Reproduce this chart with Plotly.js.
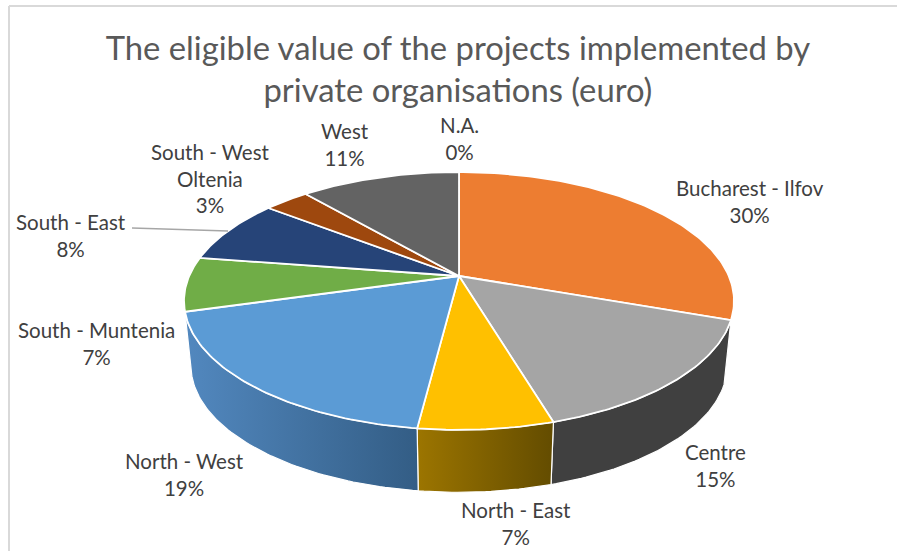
<!DOCTYPE html>
<html>
<head>
<meta charset="utf-8">
<script src="https://cdn.plot.ly/plotly-3.0.1.min.js"></script>
<style>html,body{margin:0;padding:0;background:#fff}#chart{width:897px;height:551px}</style>
</head>
<body>
<div id="chart"></div>
<script>
// Data (share of total, percent)
var categories = ['Bucharest - Ilfov','Centre','North - East','North - West','South - Muntenia','South - East','South - West<br>Oltenia','West','N.A.'];
var shares = [30.4,15.0,6.6,18.6,6.8,8.1,3.2,11.3,0.0];
var topColors = ['#ED7D31','#A5A5A5','#FFC000','#5B9BD5','#70AD47','#264478','#9E480E','#636363','#7F7F7F'];
var titleText = 'The eligible value of the projects implemented by<br>private organisations (euro)';

// Side wall shading per visible slice
var wallGradients = {
  1: ['#404040','#404040'],
  2: ['#9C7500','#634C00'],
  3: ['#5288BF','#335D85']
};

// Label anchor points (style/layout, in page pixels)
var labelAt = [[750,201],[715,465],[516,523],[184,474],[96,343],[71,235],[210,178],[345,144],[459,138]];

// Perspective projection of the pie disc
var top3d = {cx:459, cy:276, a:269.8, b:124.1, k:0.1935};
var bottom3d = {cx:459, cy:341, a:263, b:122, k:0.1935};
function project(p, deg){
  var t = deg*Math.PI/180, X = Math.sin(t), Y = Math.cos(t), w = 1 + p.k*Y;
  return [p.cx + p.a*X/w, p.cy - p.b*Y/w];
}
function arc(p, from, to){
  var pts = [], n = Math.max(1, Math.ceil(Math.abs(to-from)));
  for (var i=0;i<=n;i++) pts.push(project(p, from+(to-from)*i/n));
  return pts;
}
var total = shares.reduce(function(a,b){return a+b;},0);
var bounds = [0];
shares.forEach(function(v,i){ bounds.push(bounds[i]+v/total*360); });

var traces = [];
// Walls first
Object.keys(wallGradients).forEach(function(key){
  var i = +key, g = wallGradients[i];
  var pts = arc(top3d,bounds[i],bounds[i+1]).concat(arc(bottom3d,bounds[i+1],bounds[i]));
  pts.push(pts[0]);
  traces.push({
    type:'scatter', mode:'lines', hoverinfo:'skip', showlegend:false,
    x:pts.map(function(q){return q[0];}), y:pts.map(function(q){return q[1];}),
    fill:'toself', line:{color:'#ffffff',width:1.2},
    fillcolor:g[0],
    fillgradient:{type:'horizontal',colorscale:[[0,g[0]],[1,g[1]]]}
  });
});
// Top faces
shares.forEach(function(v,i){
  if (v<=0) return;
  var pts = [[top3d.cx,top3d.cy]].concat(arc(top3d,bounds[i],bounds[i+1]));
  pts.push([top3d.cx,top3d.cy]);
  traces.push({
    type:'scatter', mode:'lines', name:categories[i].replace('<br>',' '),
    hoverinfo:'name', showlegend:false,
    x:pts.map(function(q){return q[0];}), y:pts.map(function(q){return q[1];}),
    fill:'toself', fillcolor:topColors[i], line:{color:'#ffffff',width:1.8}
  });
});

var annotations = categories.map(function(c,i){
  return {x:labelAt[i][0], y:labelAt[i][1], xref:'x', yref:'y', showarrow:false,
    text:c+'<br>'+Math.round(shares[i]/total*100)+'%', align:'center',
    xanchor:'center', yanchor:'middle',
    font:{family:'Lato, sans-serif', size:20.5, color:'#404040'}};
});

var layout = {
  width:897, height:551, margin:{l:0,r:0,t:0,b:0},
  paper_bgcolor:'#ffffff', plot_bgcolor:'#ffffff', showlegend:false,
  title:{text:titleText, x:0.5105, xanchor:'center', y:0.8914, yanchor:'top',
         font:{family:'Lato, sans-serif', size:32.8, color:'#595959'}},
  xaxis:{range:[0,897], visible:false, fixedrange:true},
  yaxis:{range:[551,0], visible:false, fixedrange:true},
  annotations:annotations,
  shapes:[
    {type:'line',xref:'x',yref:'y',x0:9,x1:9,y0:6,y1:551,line:{color:'#d9d9d9',width:2}},
    {type:'line',xref:'x',yref:'y',x0:9,x1:897,y0:6,y1:6,line:{color:'#d9d9d9',width:2}},
    {type:'line',xref:'x',yref:'y',x0:132,x1:228,y0:228,y1:231,line:{color:'#a6a6a6',width:1.5}}
  ]
};
Plotly.newPlot('chart',traces,layout,{displayModeBar:false});
</script>
</body>
</html>
